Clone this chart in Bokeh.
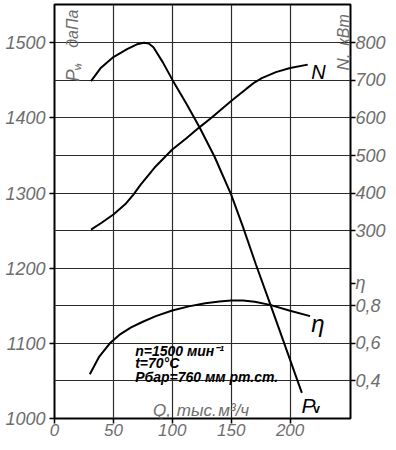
import math
from bokeh.plotting import figure
from bokeh.models import Range1d, LinearAxis, FixedTicker, Label
from bokeh.embed import file_html
from bokeh.resources import INLINE

# ---- data ----
q_pv = [31, 39, 50, 62, 70, 76, 80, 84, 92, 100, 112, 123, 136, 150, 160, 171, 183, 193, 205, 210]
pv = [1449, 1466, 1481, 1492, 1498, 1500, 1499, 1494, 1474, 1451, 1419, 1388, 1348, 1298, 1255,
      1205, 1153, 1109, 1056, 1034]

q_n = [31, 40, 50, 60, 67, 73, 85, 100, 112, 123, 133, 150, 163, 170, 176, 188, 200, 215]
n_kw = [303, 321, 343, 370, 396, 422, 468, 516, 546, 575, 600, 645, 678, 695, 706, 722, 733, 742]

q_eta = [30, 38, 47, 55, 65, 75, 86, 100, 114, 128, 140, 150, 160, 170, 183, 200, 217]
eta = [0.436, 0.53, 0.60, 0.645, 0.685, 0.715, 0.745, 0.775, 0.797, 0.813, 0.823, 0.828, 0.828,
       0.822, 0.805, 0.774, 0.745]

q_ticks = [0, 50, 100, 150, 200]
q_grid = [50, 100, 150, 200]
p_ticks = [1000, 1100, 1200, 1300, 1400, 1500]
p_grid = [1050, 1100, 1150, 1200, 1250, 1300, 1350, 1400, 1450, 1500]
n_ticks = [300, 400, 500, 600, 700, 800]
eta_ticks = [0.4, 0.6, 0.8]
eta_tick_labels = ["0,4", "0,6", "0,8"]
eta_axis_title = "η"

# axis alignment: N 800 <-> Pv 1500, N 300 <-> Pv 1250 ; eta 0.8 <-> Pv 1150, eta 0.4 <-> Pv 1050
def p_to_n(p):
    return 800 + (p - 1500) * 2.0

def p_to_eta(p):
    return 0.4 + (p - 1050) * 0.004

def eta_to_n(e):
    return p_to_n(1050 + (e - 0.4) / 0.004)

P0, P1 = 1000, 1551
Q0, Q1 = 0, 251.3

GRAY = "#6e6e6e"
FONT = "Liberation Sans"

p = figure(width=388, height=442, x_range=Range1d(Q0, Q1), y_range=Range1d(P0, P1),
           output_backend="svg", toolbar_location=None,
           min_border_left=54, min_border_right=35, min_border_top=4, min_border_bottom=24,
           outline_line_color="black", outline_line_width=2, background_fill_color="white")

p.extra_y_ranges = {"N": Range1d(p_to_n(P0), p_to_n(P1)),
                    "eta": Range1d(p_to_eta(P0), p_to_eta(P1))}

def style_axis(ax, size="18px", standoff=0):
    ax.axis_line_color = None
    ax.major_tick_line_color = "black"
    ax.major_tick_line_width = 1.5
    ax.major_tick_in = 0
    ax.major_tick_out = 5
    ax.minor_tick_line_color = None
    ax.major_label_standoff = standoff
    ax.major_label_text_font = FONT
    ax.major_label_text_font_style = "italic"
    ax.major_label_text_font_size = size
    ax.major_label_text_color = GRAY

p.xaxis.ticker = FixedTicker(ticks=q_ticks)
p.yaxis.ticker = FixedTicker(ticks=p_ticks)
style_axis(p.xaxis[0], "17px", 0)
style_axis(p.yaxis[0], "18px", 4)

# right axis: N (kW) ticks, eta ticks, and the eta title sitting in the label column
eta_title_pos = p_to_n(1180)
right_ticks = [eta_to_n(e) for e in eta_ticks] + [eta_title_pos] + n_ticks
overrides = {eta_to_n(e): lab for e, lab in zip(eta_ticks, eta_tick_labels)}
overrides[eta_title_pos] = eta_axis_title
raxis = LinearAxis(y_range_name="N", ticker=FixedTicker(ticks=right_ticks),
                   major_label_overrides=overrides)
style_axis(raxis, "18px", 0)
p.add_layout(raxis, "right")

p.xgrid.ticker = FixedTicker(ticks=q_grid)
p.ygrid.ticker = FixedTicker(ticks=p_grid)
for g in (p.xgrid[0], p.ygrid[0]):
    g.grid_line_color = "#2a2a2a"
    g.grid_line_width = 1.2

# ---- curves ----
p.line(q_pv, pv, line_color="black", line_width=2)
p.line(q_n, n_kw, line_color="black", line_width=2, y_range_name="N")
p.line(q_eta, eta, line_color="black", line_width=2, y_range_name="eta")

# ---- texts (positions given in reference pixels, converted to data) ----
def qx(x):
    return (x - 53.5) / 1.19

def py(y):
    return 1000 + (423 - y) / 0.76

def lab(text, x, y, size, color="black", style="italic", angle=0.0):
    p.add_layout(Label(x=qx(x), y=py(y), text=text, angle=angle,
                       text_align="left", text_baseline="alphabetic",
                       text_font=FONT, text_font_style=style,
                       text_font_size=f"{size}px", text_color=color))

up = math.pi / 2
# left axis title (inside frame)
lab("P", 72, 82, 18, GRAY, angle=up)
lab("v", 76, 71, 11, GRAY, angle=up)
lab(",", 72, 67, 18, GRAY, angle=up)
lab("даПа", 72, 48, 16, GRAY, angle=up)
# right axis title
lab("N,", 345, 71, 17, GRAY, angle=up)
lab("кВт", 345, 46, 16, GRAY, angle=up)
# x axis title
lab("Q,", 153, 415, 17, GRAY)
lab("тыс.", 177, 415, 17, GRAY)
lab("м³/ч", 219, 415, 17, GRAY)
# conditions
lab("n=1500  мин⁻¹", 135, 355, 14, "black", "bold italic")
lab("t=70°C", 135, 367, 14, "black", "bold italic")
lab("Pбар=760 мм рт.ст.", 135, 381, 14, "black", "bold italic")
# curve names
lab("N", 313, 73, 20)
lab("η", 313, 327, 24)
lab("P", 303, 410, 21)
lab("v", 315, 413, 12, "black", "bold")

open("out.html", "w").write(file_html(p, INLINE))
